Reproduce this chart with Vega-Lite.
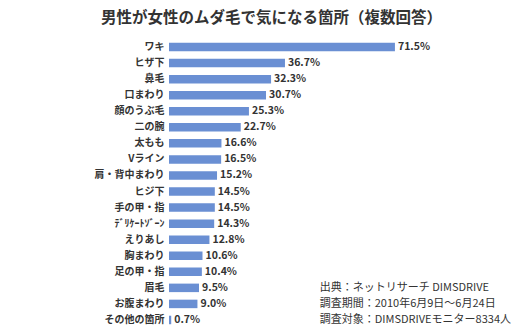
{
  "$schema": "https://vega.github.io/schema/vega-lite/v6.json",
  "autosize": "none",
  "width": 316,
  "height": 289,
  "padding": {"left": 169, "top": 39, "right": 35, "bottom": 0},
  "background": "#ffffff",
  "config": {
    "view": {"stroke": null},
    "font": "Noto Sans CJK JP"
  },
  "title": {
    "text": "男性が女性のムダ毛で気になる箇所（複数回答）",
    "anchor": "start",
    "frame": "group",
    "dx": -68,
    "offset": 13,
    "fontSize": 15.5,
    "fontWeight": "bold",
    "color": "#333333",
    "font": "Noto Sans CJK JP"
  },
  "layer": [
    {
      "data": {
        "values": [
          {"part": "ワキ", "v": 0.715},
          {"part": "ヒザ下", "v": 0.367},
          {"part": "鼻毛", "v": 0.323},
          {"part": "口まわり", "v": 0.307},
          {"part": "顔のうぶ毛", "v": 0.253},
          {"part": "二の腕", "v": 0.227},
          {"part": "太もも", "v": 0.166},
          {"part": "Vライン", "v": 0.165},
          {"part": "肩・背中まわり", "v": 0.152},
          {"part": "ヒジ下", "v": 0.145},
          {"part": "手の甲・指", "v": 0.145},
          {"part": "ﾃﾞﾘｹｰﾄｿﾞｰﾝ", "v": 0.143},
          {"part": "えりあし", "v": 0.128},
          {"part": "胸まわり", "v": 0.106},
          {"part": "足の甲・指", "v": 0.104},
          {"part": "眉毛", "v": 0.095},
          {"part": "お腹まわり", "v": 0.09},
          {"part": "その他の箇所", "v": 0.007}
        ]
      },
      "layer": [
        {
          "mark": {"type": "bar", "color": "#6a8fd3"},
          "encoding": {
            "y": {
              "field": "part",
              "type": "nominal",
              "sort": null,
              "title": null,
              "scale": {"paddingInner": 0.47, "paddingOuter": 0.235},
              "axis": {
                "domain": false,
                "ticks": false,
                "labelPadding": 5,
                "labelFontSize": 10,
                "labelFontWeight": "bold",
                "labelColor": "#333333",
                "labelFont": "Noto Sans CJK JP"
              }
            },
            "x": {
              "field": "v",
              "type": "quantitative",
              "scale": {"domain": [0, 1]},
              "axis": null
            }
          }
        },
        {
          "mark": {
            "type": "text",
            "align": "left",
            "baseline": "middle",
            "dx": 3,
            "fontSize": 10.5,
            "fontWeight": "bold",
            "color": "#333333",
            "font": "Noto Sans CJK JP"
          },
          "encoding": {
            "y": {"field": "part", "type": "nominal", "sort": null},
            "x": {"field": "v", "type": "quantitative"},
            "text": {"field": "v", "type": "quantitative", "format": ".1%"}
          }
        }
      ]
    },
    {
      "data": {"values": [
        {"note": "出典：ネットリサーチ DIMSDRIVE", "at": "眉毛"},
        {"note": "調査期間：2010年6月9日～6月24日", "at": "お腹まわり"},
        {"note": "調査対象：DIMSDRIVEモニター8334人", "at": "その他の箇所"}
      ]},
      "mark": {
        "type": "text",
        "align": "left",
        "baseline": "middle",
        "fontSize": 11,
        "color": "#333333",
        "font": "Noto Sans CJK JP"
      },
      "encoding": {
        "x": {"datum": 0.477},
        "y": {"field": "at", "type": "nominal", "sort": null},
        "text": {"field": "note"}
      }
    }
  ]
}
